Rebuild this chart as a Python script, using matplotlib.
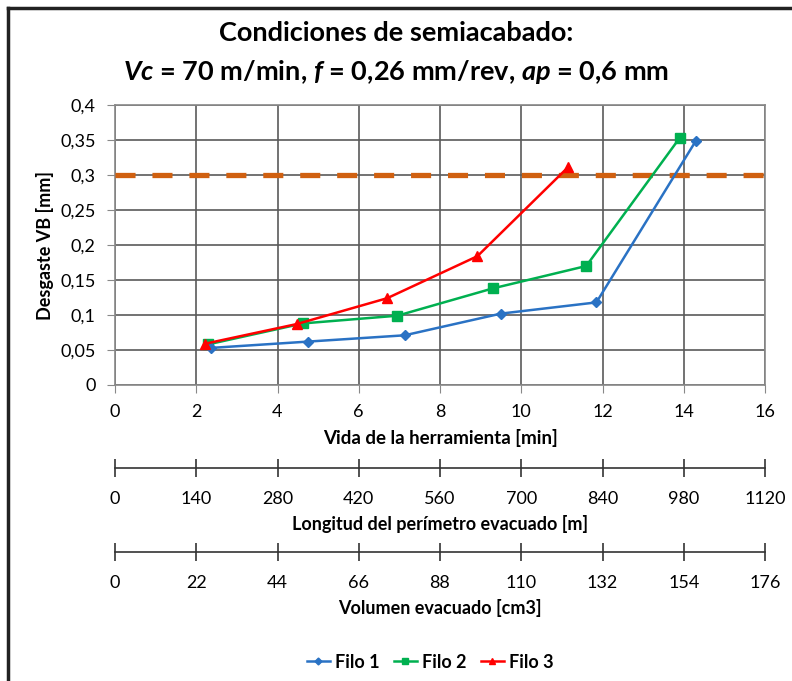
import matplotlib.pyplot as plt
from matplotlib.lines import Line2D
import numpy as np

plt.rcParams['font.family'] = ['Lato', 'DejaVu Sans']
plt.rcParams['mathtext.fontset'] = 'custom'
plt.rcParams['mathtext.bf'] = 'Lato:bold'
plt.rcParams['mathtext.bfit'] = 'Lato:bold:italic'
plt.rcParams['mathtext.it'] = 'Lato:bold:italic'

# data
filo1_t = [2.37, 4.75, 7.13, 9.5, 11.85, 14.3]
filo1_vb = [0.053, 0.062, 0.071, 0.102, 0.118, 0.349]
filo2_t = [2.29, 4.63, 6.95, 9.3, 11.6, 13.9]
filo2_vb = [0.058, 0.088, 0.099, 0.138, 0.170, 0.353]
filo3_t = [2.22, 4.47, 6.7, 8.92, 11.15]
filo3_vb = [0.059, 0.087, 0.124, 0.184, 0.311]
vb_limit = 0.3

longitud_ticks = [0, 140, 280, 420, 560, 700, 840, 980, 1120]
volumen_ticks = [0, 22, 44, 66, 88, 110, 132, 154, 176]

W, H = 792, 681
fig = plt.figure(figsize=(W / 100, H / 100), dpi=100)

# outer frame (cropped on the right / bottom in the original)
fig.add_artist(Line2D([8 / W, 8 / W], [0, 1 - 8 / H], color='#222222', lw=2.5))
fig.add_artist(Line2D([8 / W, 1], [1 - 8 / H, 1 - 8 / H], color='#222222', lw=2.5))

l, r = 115 / W, 765 / W
ax = fig.add_axes([l, 1 - 385 / H, r - l, (385 - 105) / H])

ax.plot(filo1_t, filo1_vb, color='#2A72C4', marker='D', ms=5, lw=1.8, label='Filo 1', zorder=5)
ax.plot(filo2_t, filo2_vb, color='#00B050', marker='s', ms=6.5, lw=1.8, label='Filo 2', zorder=4)
ax.plot(filo3_t, filo3_vb, color='#FF0000', marker='^', ms=7, lw=1.8, label='Filo 3', zorder=6)
ax.axhline(vb_limit, color='#D06010', lw=3.8, dashes=(3.8, 3.2), zorder=3)

ax.set_xlim(0, 16)
ax.set_ylim(0, 0.4)
ax.set_xticks(np.arange(0, 17, 2))
ax.set_yticks(np.arange(0, 0.41, 0.05))
ax.set_yticklabels([f'{v:g}'.replace('.', ',') for v in np.arange(0, 0.41, 0.05).round(2)])
ax.grid(True, color='#5a5a5a', lw=1.2)
for s in ax.spines.values():
    s.set_color('#888888')
    s.set_linewidth(1.2)
ax.tick_params(labelsize=13, length=6, color='#888888', pad=8)
ax.set_xlabel('Vida de la herramienta [min]', fontsize=13.5, fontweight='bold', labelpad=6)
ax.set_ylabel('Desgaste VB [mm]', fontsize=13, fontweight='bold', labelpad=4)


def extra_axis(y_px, ticks, label):
    a = fig.add_axes([l, 1 - y_px / H, r - l, 1e-5])
    a.set_facecolor('none')
    for k in ('top', 'left', 'right'):
        a.spines[k].set_visible(False)
    a.spines['bottom'].set_color('#333333')
    a.spines['bottom'].set_linewidth(1.2)
    a.set_yticks([])
    a.set_xlim(ticks[0], ticks[-1])
    a.set_xticks(ticks)
    a.tick_params(axis='x', direction='inout', length=13, width=1.2,
                  color='#333333', labelsize=13, pad=10)
    a.set_xlabel(label, fontsize=13, fontweight='bold', labelpad=6)
    return a


extra_axis(468, longitud_ticks, 'Longitud del perímetro evacuado [m]')
extra_axis(552, volumen_ticks, 'Volumen evacuado [cm3]')

fig.text(0.5, 1 - 33 / H, 'Condiciones de semiacabado:', ha='center', va='center',
         fontsize=19.5, fontweight='bold')
fig.text(0.5, 1 - 72 / H,
         r'$\mathbfit{Vc}$ = 70 m/min, $\mathbfit{f}$ = 0,26 mm/rev, $\mathbfit{ap}$ = 0,6 mm',
         ha='center', va='center', fontsize=19.5, fontweight='bold')

handles, labels = ax.get_legend_handles_labels()
fig.legend(handles, labels, loc='center', bbox_to_anchor=(430 / W, 1 - 662 / H), ncol=3,
           frameon=False, prop={'weight': 'bold', 'size': 13}, handlelength=1.3,
           handletextpad=0.25, columnspacing=0.8, markerscale=0.7)

fig.savefig('out.png', dpi=100)
